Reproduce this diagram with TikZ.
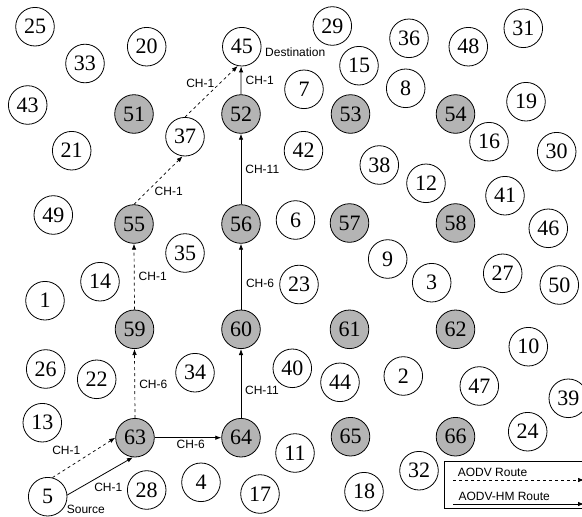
\documentclass[tikz,border=0pt]{standalone}
\usepackage{fontspec}
\setmainfont{Liberation Serif}
\newfontfamily\labfont{Liberation Sans}
\usetikzlibrary{arrows.meta}
\definecolor{nodegrey}{RGB}{180,180,180}
\tikzset{
  plain/.style={circle,draw=black,line width=0.8pt,fill=white,minimum size=38.6pt,inner sep=0pt,font=\fontsize{22}{22}\selectfont},
  head/.style={plain,fill=nodegrey},
  lab/.style={font=\labfont\fontsize{12}{12}\selectfont,inner sep=0pt},
  aodv/.style={dashed,line width=0.7pt,-{Latex[length=6pt,width=4.5pt]}},
  aodvhm/.style={line width=0.8pt,-{Latex[length=6pt,width=4.5pt]}}
}
\begin{document}
\begin{tikzpicture}[x=1pt,y=-1pt]
\useasboundingbox (0,0) rectangle (582,517);
\clip (0,0) rectangle (582,517);
% ordinary nodes
\node[plain] (n25) at (35,26.7) {25};
\node[plain] (n33) at (85,63.5) {33};
\node[plain] (n20) at (146.7,46.7) {20};
\node[plain] (n45) at (241.8,46.7) {45};
\node[plain] (n29) at (332.3,26) {29};
\node[plain] (n36) at (409,38.3) {36};
\node[plain] (n48) at (468.3,46.7) {48};
\node[plain] (n31) at (523.3,28.3) {31};
\node[plain] (n43) at (27.7,105) {43};
\node[plain] (n15) at (359,65.7) {15};
\node[plain] (n7) at (304,89.3) {7};
\node[plain] (n8) at (405.7,88.3) {8};
\node[plain] (n19) at (526,101.7) {19};
\node[plain] (n37) at (185,136.7) {37};
\node[plain] (n16) at (489,141.7) {16};
\node[plain] (n30) at (556.7,151.7) {30};
\node[plain] (n21) at (71.7,150.7) {21};
\node[plain] (n42) at (303.5,150.7) {42};
\node[plain] (n38) at (379.3,165) {38};
\node[plain] (n12) at (426,183.3) {12};
\node[plain] (n41) at (505,195.7) {41};
\node[plain] (n49) at (53.3,215) {49};
\node[plain] (n6) at (295.5,220) {6};
\node[plain] (n46) at (548.3,228.3) {46};
\node[plain] (n35) at (185,253) {35};
\node[plain] (n9) at (387.7,259) {9};
\node[plain] (n14) at (100,281.7) {14};
\node[plain] (n23) at (299,284.5) {23};
\node[plain] (n3) at (431.7,282.7) {3};
\node[plain] (n27) at (502.7,273.3) {27};
\node[plain] (n50) at (559.3,285) {50};
\node[plain] (n1) at (45,300.7) {1};
\node[plain] (n10) at (528.3,346.7) {10};
\node[plain] (n26) at (45.7,369) {26};
\node[plain] (n22) at (96.7,379.3) {22};
\node[plain] (n34) at (195,372.7) {34};
\node[plain] (n40) at (292.3,368.3) {40};
\node[plain] (n44) at (340,382.3) {44};
\node[plain] (n2) at (403.3,376) {2};
\node[plain] (n47) at (479.3,386) {47};
\node[plain] (n39) at (568.3,398.3) {39};
\node[plain] (n13) at (42.3,422.7) {13};
\node[plain] (n24) at (527.7,431.7) {24};
\node[plain] (n11) at (295,453) {11};
\node[plain] (n32) at (419,470.7) {32};
\node[plain] (n5) at (47.7,496.7) {5};
\node[plain] (n28) at (146.7,490) {28};
\node[plain] (n4) at (201,482.3) {4};
\node[plain] (n17) at (260,494) {17};
\node[plain] (n18) at (364,491.7) {18};
% cluster heads
\node[head] (n51) at (134,114) {51};
\node[head] (n52) at (241,114) {52};
\node[head] (n53) at (350.5,114) {53};
\node[head] (n54) at (455.5,114) {54};
\node[head] (n55) at (134,224) {55};
\node[head] (n56) at (241,224) {56};
\node[head] (n57) at (349.5,223) {57};
\node[head] (n58) at (455.5,223) {58};
\node[head] (n59) at (134.5,329.3) {59};
\node[head] (n60) at (241,329.3) {60};
\node[head] (n61) at (349.5,329.3) {61};
\node[head] (n62) at (455.5,329.3) {62};
\node[head] (n63) at (135,437.7) {63};
\node[head] (n64) at (241,437.7) {64};
\node[head] (n65) at (350.5,436.7) {65};
\node[head] (n66) at (455.5,436.7) {66};
% AODV route (dashed)
\draw[aodv] (n5.76) -- (n63.180);
\draw[aodv] (n63.north) -- (n59.south);
\draw[aodv] (n59.north) -- (n55.south);
\draw[aodv] (n55.north) -- (n37.263);
\draw[aodv] (n37.north) -- (n45.258);
% AODV-HM route (solid)
\draw[aodvhm] (n5.5) -- (n63.264);
\draw[aodvhm] (n63.east) -- (n64.west);
\draw[aodvhm] (n64.north) -- (n60.south);
\draw[aodvhm] (n60.north) -- (n56.south);
\draw[aodvhm] (n56.north) -- (n52.south);
\draw[aodvhm] (n52.north) -- (n45.268);
% channel labels
\node[lab] (l1) at (66.3,450.7) {CH-1};
\node[lab] (l2) at (108.3,487.3) {CH-1};
\node[lab] (l3) at (190.7,444.3) {CH-6};
\node[lab] (l4) at (153.3,384.3) {CH-6};
\node[lab] (l5) at (152.7,276.7) {CH-1};
\node[lab] (l6) at (262,390.7) {CH-11};
\node[lab] (l7) at (260,283.3) {CH-6};
\node[lab] (l8) at (262.3,169.3) {CH-11};
\node[lab] (l9) at (259.7,80) {CH-1};
\node[lab] (l10) at (168.7,191.7) {CH-1};
\node[lab] (l11) at (200.3,83.3) {CH-1};
\node[lab,anchor=west] (ldest) at (265,52.7) {Destination};
\node[lab,anchor=west] (lsrc) at (66.7,509.3) {Source};
% legend
\node[draw=black,line width=0.8pt,anchor=north west,minimum width=160pt,minimum height=47.6pt,inner sep=0pt] (legend) at (444,460.7) {};
\node[lab,anchor=west] (lga) at (457.7,472.7) {AODV Route};
\node[lab,anchor=west] (lgb) at (458.3,496) {AODV-HM Route};
\coordinate (la1) at (453,480);
\coordinate (la2) at (584,480);
\coordinate (lb1) at (453,504);
\coordinate (lb2) at (584,504);
\draw[aodv] (la1) -- (la2);
\draw[aodvhm] (lb1) -- (lb2);
\end{tikzpicture}
\end{document}
